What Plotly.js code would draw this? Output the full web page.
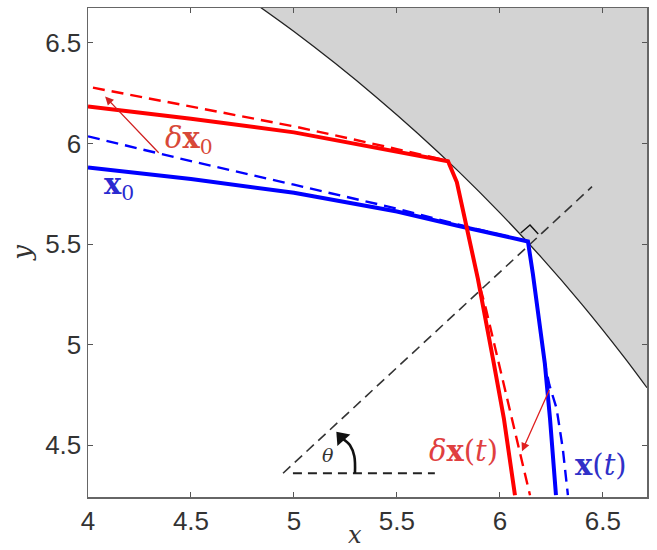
<!DOCTYPE html>
<html>
<head>
<meta charset="utf-8">
<script src="https://cdn.plot.ly/plotly-3.0.1.min.js"></script>
<style>body{margin:0;background:#fff}#chart{width:657px;height:550px}</style>
</head>
<body>
<div id="chart"></div>
<script>
// Tick values / labels
const xTicks = [4, 4.5, 5, 5.5, 6, 6.5];
const xTickText = ["4", "4.5", "5", "5.5", "6", "6.5"];
const yTicks = [4.5, 5, 5.5, 6, 6.5];
const yTickText = ["4.5", "5", "5.5", "6", "6.5"];

// Boundary of the grey region
const boundX = [4.835, 5.0, 5.2, 5.4, 5.6, 5.8, 6.0, 6.2, 6.4, 6.6, 6.714];
const boundY = [6.678, 6.556, 6.398, 6.230, 6.051, 5.860, 5.655, 5.435, 5.198, 4.942, 4.786];
const cornerX = [6.714];
const cornerY = [6.678];

// x0 trajectory (blue solid)
const blueX = [4.0, 4.5, 5.0, 5.5, 5.8, 6.136, 6.160, 6.189, 6.218, 6.243, 6.272];
const blueY = [5.881, 5.823, 5.755, 5.662, 5.590, 5.513, 5.351, 5.129, 4.906, 4.634, 4.252];
// blue dashed
const blueDX = [4.0, 4.5, 5.0, 5.5, 5.8, 6.136, 6.160, 6.189, 6.218, 6.240, 6.275, 6.305, 6.330];
const blueDY = [6.035, 5.912, 5.795, 5.676, 5.596, 5.513, 5.351, 5.129, 4.906, 4.800, 4.683, 4.485, 4.252];

// perturbed trajectory (red solid)
const redX = [4.0, 4.5, 5.0, 5.5, 5.748, 5.791, 5.845, 5.893, 5.966, 6.019, 6.073];
const redY = [6.183, 6.123, 6.055, 5.960, 5.911, 5.807, 5.559, 5.327, 4.931, 4.634, 4.252];
// red dashed
const redDX = [4.024, 4.5, 5.0, 5.5, 5.748, 5.791, 5.845, 5.893, 5.932, 6.000, 6.058, 6.146];
const redDY = [6.277, 6.185, 6.085, 5.972, 5.913, 5.807, 5.559, 5.327, 5.178, 4.881, 4.634, 4.252];

// Normal (radial) dashed line and horizontal reference
const normX = [4.947, 6.447];
const normY = [4.361, 5.785];
const horizX = [4.995, 5.684];
const horizY = [4.361, 4.361];

// Right-angle marker
const rightX = [6.101, 6.146, 6.186];
const rightY = [5.555, 5.595, 5.550];

// theta arc and its arrow head
const arcX = [5.296, 5.293, 5.272, 5.238];
const arcY = [4.361, 4.445, 4.500, 4.532];
const headX = [5.230];
const headY = [4.539];

const traces = [
  {x: boundX.concat(cornerX, [boundX[0]]), y: boundY.concat(cornerY, [boundY[0]]),
   mode: 'lines', fill: 'toself', fillcolor: '#d3d3d3', line: {width: 0, color: 'rgba(0,0,0,0)'}, hoverinfo: 'skip'},
  {x: boundX, y: boundY, mode: 'lines', line: {color: '#222', width: 1.3, shape: 'spline'}},
  {x: normX, y: normY, mode: 'lines', line: {color: '#333', width: 1.6, dash: '10px,6px'}},
  {x: horizX, y: horizY, mode: 'lines', line: {color: '#222', width: 2.2, dash: '9px,6px'}},
  {x: rightX, y: rightY, mode: 'lines', line: {color: '#111', width: 1.4}},
  {x: arcX, y: arcY, mode: 'lines', line: {color: '#111', width: 2.6, shape: 'spline'}},
  {x: headX, y: headY, mode: 'markers', marker: {symbol: 'triangle-up', size: 15, angle: -42, color: '#111', line: {width: 0}}},
  {x: blueDX, y: blueDY, mode: 'lines', line: {color: '#0000ff', width: 2.4, dash: '12px,7px'}},
  {x: redDX, y: redDY, mode: 'lines', line: {color: '#ff0000', width: 2.4, dash: '12px,7px'}},
  {x: blueX, y: blueY, mode: 'lines', line: {color: '#0000ff', width: 4}},
  {x: redX, y: redY, mode: 'lines', line: {color: '#ff0000', width: 4}}
];

const serif = 'DejaVu Serif, Liberation Serif, serif';
const sans = 'Liberation Sans, Arial, sans-serif';
const layout = {
  width: 657, height: 550,
  margin: {l: 88, r: 10, t: 8, b: 53},
  paper_bgcolor: '#fff', plot_bgcolor: '#fff',
  showlegend: false,
  xaxis: {range: [4, 6.714], tickvals: xTicks, ticktext: xTickText, ticks: 'inside', ticklen: 5,
          tickcolor: '#555', mirror: 'ticks', showline: true, linecolor: '#666', linewidth: 1.5,
          showgrid: false, zeroline: false,
          tickfont: {family: sans, size: 26, color: '#333'}},
  yaxis: {range: [4.243, 6.673], tickvals: yTicks, ticktext: yTickText, ticks: 'inside', ticklen: 5,
          tickcolor: '#555', mirror: 'ticks', showline: true, linecolor: '#666', linewidth: 1.5,
          showgrid: false, zeroline: false,
          tickfont: {family: sans, size: 26, color: '#333'},
          title: {text: '<i>y</i>', font: {family: serif, size: 26, color: '#333'}, standoff: 6}},
  annotations: [
    {x: 0.478, y: -0.1084, xref: 'paper', yref: 'paper', xanchor: 'center', yanchor: 'bottom', showarrow: false,
     borderpad: 0, text: '<i>x</i>', font: {family: serif, size: 24, color: '#333'}},
    {x: 4.083, y: 6.233, ax: 4.35, ay: 5.946, xref: 'x', yref: 'y', axref: 'x', ayref: 'y',
     showarrow: true, arrowhead: 2, arrowsize: 1.3, arrowwidth: 1.3, arrowcolor: '#d02020', text: ''},
    {x: 6.107, y: 4.470, ax: 6.243, ay: 4.782, xref: 'x', yref: 'y', axref: 'x', ayref: 'y',
     showarrow: true, arrowhead: 2, arrowsize: 1.3, arrowwidth: 1.3, arrowcolor: '#e02020', text: ''},
    {x: 4.49, y: 6.015, xref: 'x', yref: 'y', showarrow: false,
     text: '<i>δ</i><b>x</b><sub>0</sub>', font: {family: serif, size: 29, color: '#d84838'}},
    {x: 4.15, y: 5.79, xref: 'x', yref: 'y', showarrow: false,
     text: '<b>x</b><sub>0</sub>', font: {family: serif, size: 29, color: '#2a2ad0'}},
    {x: 5.825, y: 4.473, xref: 'x', yref: 'y', showarrow: false,
     text: '<i>δ</i><b>x</b>(<i>t</i>)', font: {family: serif, size: 29, color: '#e04040'}},
    {x: 6.49, y: 4.40, xref: 'x', yref: 'y', showarrow: false,
     text: '<b>x</b>(<i>t</i>)', font: {family: serif, size: 29, color: '#3030c8'}},
    {x: 5.165, y: 4.45, xref: 'x', yref: 'y', showarrow: false,
     text: '<i>θ</i>', font: {family: serif, size: 19, color: '#333'}}
  ]
};

Plotly.newPlot('chart', traces, layout, {displayModeBar: false, staticPlot: true});
</script>
</body>
</html>
